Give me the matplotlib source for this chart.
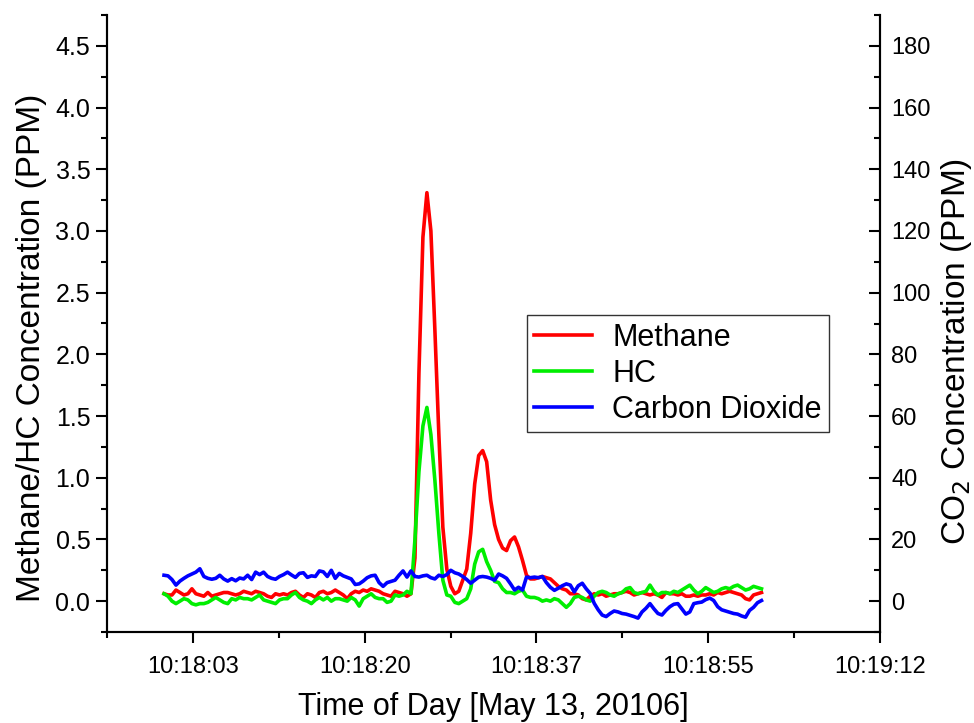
import matplotlib
matplotlib.use("Agg")
import matplotlib.pyplot as plt
from matplotlib.ticker import MultipleLocator, FixedLocator
import numpy as np

plt.rcParams['font.family'] = ['Liberation Sans', 'DejaVu Sans']

# time axis: seconds after 10:18:00, sampled every 0.4 s starting at 0.5 s
t_start = 0.5
t_step = 0.4

methane = [
    0.06, 0.05, 0.05, 0.09, 0.07, 0.05, 0.06, 0.10, 0.06, 0.05,
    0.04, 0.07, 0.04, 0.05, 0.06, 0.07, 0.07, 0.06, 0.05, 0.06,
    0.08, 0.07, 0.06, 0.08, 0.07, 0.06, 0.04, 0.03, 0.06, 0.05,
    0.06, 0.05, 0.07, 0.08, 0.05, 0.03, 0.06, 0.05, 0.03, 0.07,
    0.08, 0.06, 0.07, 0.09, 0.07, 0.05, 0.02, 0.06, 0.08, 0.07,
    0.09, 0.08, 0.10, 0.09, 0.08, 0.06, 0.05, 0.04, 0.08, 0.07,
    0.06, 0.04, 0.06, 0.35, 1.85, 2.95, 3.31, 3.00, 2.20, 1.35,
    0.60, 0.26, 0.12, 0.06, 0.08, 0.17, 0.26, 0.55, 0.95, 1.18,
    1.22, 1.13, 0.82, 0.62, 0.50, 0.43, 0.41, 0.49, 0.52, 0.44,
    0.33, 0.21, 0.18, 0.18, 0.19, 0.20, 0.19, 0.18, 0.15, 0.12,
    0.10, 0.09, 0.06, 0.06, 0.05, 0.02, 0.01, 0.04, 0.06, 0.05,
    0.06, 0.04, 0.05, 0.06, 0.06, 0.07, 0.08, 0.07, 0.05, 0.06,
    0.07, 0.06, 0.05, 0.06, 0.05, 0.03, 0.07, 0.06, 0.06, 0.05,
    0.06, 0.04, 0.04, 0.05, 0.04, 0.05, 0.05, 0.06, 0.05, 0.07,
    0.06, 0.07, 0.08, 0.07, 0.06, 0.05, 0.02, 0.01, 0.05, 0.06,
    0.07,
]

hc = [
    0.06, 0.04, 0.00, -0.02, 0.00, 0.02, 0.01, -0.02, -0.03, -0.02,
    -0.02, -0.01, 0.01, 0.03, 0.01, -0.01, -0.02, 0.02, 0.01, 0.03,
    0.02, 0.02, 0.01, 0.03, 0.05, 0.01, 0.00, -0.01, -0.02, 0.01,
    0.02, 0.02, 0.05, 0.07, 0.03, 0.01, 0.00, -0.02, 0.01, 0.03,
    0.01, 0.03, 0.00, 0.02, 0.02, 0.01, 0.00, 0.03, 0.01, -0.04,
    0.02, 0.04, 0.06, 0.03, 0.02, 0.02, -0.01, 0.00, 0.05, 0.04,
    0.05, 0.08, 0.06, 0.50, 1.05, 1.42, 1.57, 1.35, 0.98, 0.55,
    0.17, 0.05, 0.04, -0.01, -0.02, 0.00, 0.02, 0.10, 0.30, 0.40,
    0.42, 0.32, 0.25, 0.16, 0.15, 0.10, 0.07, 0.07, 0.06, 0.08,
    0.09, 0.04, 0.03, 0.03, 0.02, 0.00, 0.01, 0.00, 0.02, 0.01,
    -0.02, -0.05, -0.02, 0.03, 0.04, 0.03, 0.01, 0.00, 0.04, 0.07,
    0.08, 0.07, 0.05, 0.04, 0.06, 0.07, 0.10, 0.11, 0.07, 0.06,
    0.07, 0.08, 0.13, 0.08, 0.05, 0.07, 0.07, 0.06, 0.08, 0.07,
    0.09, 0.11, 0.13, 0.09, 0.06, 0.08, 0.11, 0.09, 0.07, 0.08,
    0.10, 0.11, 0.10, 0.12, 0.13, 0.11, 0.09, 0.10, 0.12, 0.11,
    0.10,
]

co2 = [
    8.4, 8.2, 7.0, 5.2, 6.5, 7.4, 8.2, 8.8, 9.4, 10.5,
    8.0, 7.4, 7.1, 7.4, 8.4, 7.2, 6.5, 7.3, 6.6, 7.5,
    7.2, 8.4, 7.0, 9.4, 8.6, 9.4, 8.0, 7.4, 7.1, 8.0,
    8.6, 9.4, 8.5, 7.7, 9.0, 9.2, 7.7, 8.2, 8.0, 9.8,
    9.5, 8.0, 10.0, 7.4, 9.0, 8.2, 7.7, 7.2, 5.4, 5.6,
    6.5, 7.6, 8.2, 8.4, 6.0, 4.8, 6.0, 6.4, 6.8, 8.4,
    9.8, 7.8, 9.8, 8.0, 7.8, 8.2, 8.4, 7.6, 7.2, 8.4,
    8.0, 8.6, 10.0, 9.2, 8.8, 8.0, 7.0, 5.8, 6.8, 7.8,
    8.0, 7.8, 7.4, 6.8, 8.8, 8.2, 7.4, 5.6, 3.6, 4.5,
    3.6, 7.8, 7.6, 7.8, 7.6, 8.0, 6.0, 4.5, 3.5, 4.2,
    5.0, 5.6, 5.2, 3.0, 5.0, 5.8, 4.0, 2.5, -0.7, -2.8,
    -4.5, -5.0, -4.0, -3.2, -3.5, -4.0, -4.2, -4.6, -5.0, -5.5,
    -3.5, -2.3, -0.8, -2.5, -4.0, -4.5, -3.0, -1.8, -1.0, -0.8,
    -2.5, -4.2, -3.5, -0.8, -0.5, -0.3, 0.5, 1.0, 0.2, -1.8,
    -2.8, -3.2, -3.6, -4.0, -4.2, -4.8, -5.2, -3.0, -2.0, -0.5,
    0.2,
]

x_tick_pos = [3.4, 20.65, 37.9, 55.15, 72.4]
x_tick_labels = ["10:18:03", "10:18:20", "10:18:37", "10:18:55", "10:19:12"]

t = t_start + t_step * np.arange(len(methane))

fig = plt.figure(figsize=(9.74, 7.23), dpi=100)
ax = fig.add_axes([107/974, 1 - 632/723, (880-107)/974, (632-15)/723])
ax2 = ax.twinx()

lw = 2.6
l1, = ax.plot(t, methane, color='#ff0000', lw=lw, label='Methane', solid_joinstyle='round')
l2, = ax.plot(t, hc, color='#00ee00', lw=lw, label='HC', solid_joinstyle='round')
l3, = ax2.plot(t, co2, color='#0000ff', lw=lw, label='Carbon Dioxide', solid_joinstyle='round')

ax.set_xlim(-5.225, 72.4)
ax.set_ylim(-0.25, 4.75)
ax2.set_ylim(-10, 190)

ax.set_xticks(x_tick_pos)
ax.set_xticklabels(x_tick_labels)
minor_x = [-5.225] + [(x_tick_pos[i] + x_tick_pos[i+1]) / 2 for i in range(len(x_tick_pos)-1)]
ax.xaxis.set_minor_locator(FixedLocator(minor_x))

ax.yaxis.set_major_locator(MultipleLocator(0.5))
ax.yaxis.set_minor_locator(MultipleLocator(0.25))
ax.yaxis.set_major_formatter(matplotlib.ticker.FormatStrFormatter('%.1f'))
ax2.yaxis.set_major_locator(FixedLocator(list(range(0, 181, 20))))
ax2.yaxis.set_minor_locator(MultipleLocator(10))

for a in (ax, ax2):
    for s in a.spines.values():
        s.set_linewidth(1.5)
    a.spines['top'].set_visible(False)

ax.tick_params(axis='both', which='major', direction='out', length=8, width=1.5, labelsize=17, pad=5)
ax.tick_params(axis='y', which='major', labelsize=18, pad=4)
ax.tick_params(axis='both', which='minor', direction='out', length=4.5, width=1.5)
ax.tick_params(axis='x', which='major', pad=9)
ax2.tick_params(axis='y', which='major', direction='in', length=8, width=1.5, labelsize=17, pad=8)
ax2.tick_params(axis='y', which='minor', direction='in', length=4.5, width=1.5)

ax.set_xlabel('Time of Day [May 13, 20106]', fontsize=22, labelpad=10)
ax.set_ylabel('Methane/HC Concentration (PPM)', fontsize=24, labelpad=6)
ax2.set_ylabel('CO$_2$ Concentration (PPM)', fontsize=24, labelpad=6)
ax.yaxis.label.set_y(0.46)
ax2.yaxis.label.set_y(0.455)

leg = ax2.legend(handles=[l1, l2, l3], loc='upper left', bbox_to_anchor=(0.543, 0.514),
                 fontsize=22, frameon=True, fancybox=False, edgecolor='black',
                 handlelength=1.9, handletextpad=0.65, borderpad=0.25, labelspacing=0.2,
                 borderaxespad=0)
leg.get_frame().set_linewidth(1.0)

fig.savefig('out.png', dpi=100)
